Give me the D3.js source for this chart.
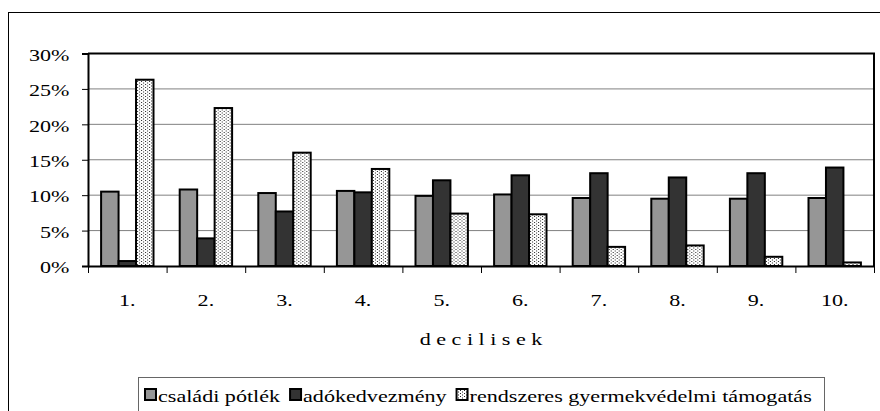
<!DOCTYPE html>
<html>
<head>
<meta charset="utf-8">
<script src="https://cdn.jsdelivr.net/npm/d3@7"></script>
<style>
  body { margin: 0; background: #fff; }
  svg text { font-family: "Liberation Serif", "Times New Roman", serif; font-size: 17px; fill: #000; }
</style>
</head>
<body>
<div id="chart"></div>
<script>
// decilisek
var deciles = ["1.", "2.", "3.", "4.", "5.", "6.", "7.", "8.", "9.", "10."];
var seriesNames = ["családi pótlék", "adókedvezmény", "rendszeres gyermekvédelmi támogatás"];
var csaladiPotlek = [0.105, 0.108, 0.103, 0.106, 0.099, 0.101, 0.096, 0.095, 0.095, 0.096];
var adokedvezmeny = [0.007, 0.039, 0.077, 0.104, 0.121, 0.128, 0.131, 0.125, 0.131, 0.139];
var rendszeres = [0.263, 0.223, 0.160, 0.137, 0.074, 0.073, 0.027, 0.029, 0.013, 0.005];
var yTicks = [0, 0.05, 0.10, 0.15, 0.20, 0.25, 0.30];
var axisTitle = "d e c i l i s e k";

var W = 880, H = 411;
var plotL = 88, plotR = 874, plotT = 53.5, plotB = 266;
var SX = 1.3; // the original text is stretched sideways

var svg = d3.select("#chart").append("svg")
    .attr("width", W).attr("height", H);

var defs = svg.append("defs");
var pat = defs.append("pattern")
    .attr("id", "dots").attr("patternUnits", "userSpaceOnUse")
    .attr("width", 4).attr("height", 3);
pat.append("rect").attr("width", 4).attr("height", 3).attr("fill", "#fff");
pat.append("rect").attr("x", 0).attr("y", 0).attr("width", 1).attr("height", 1).attr("fill", "#222");
pat.append("rect").attr("x", 2).attr("y", 1.5).attr("width", 1).attr("height", 1).attr("fill", "#222");

var fills = ["#969696", "#333333", "url(#dots)"];

// outer frame
svg.append("rect")
    .attr("x", 8.5).attr("y", 12.5).attr("width", 900).attr("height", 500)
    .attr("fill", "none").attr("stroke", "#000").attr("stroke-width", 1);

var x0 = d3.scaleBand().domain(deciles).range([plotL, plotR])
    .paddingInner(1 / 3).paddingOuter(1 / 6);
var x1 = d3.scaleBand().domain([0, 1, 2]).range([0, x0.bandwidth()]);
var y = d3.scaleLinear().domain([0, 0.3]).range([plotB, plotT]);
var xEdge = d3.scaleLinear().domain([0, deciles.length]).range([plotL, plotR]);

// gridlines
svg.append("g").selectAll("line")
    .data(yTicks.filter(function (d) { return d > 0 && d < 0.3; }))
    .join("line")
    .attr("x1", plotL).attr("x2", plotR)
    .attr("y1", function (d) { return y(d); }).attr("y2", function (d) { return y(d); })
    .attr("stroke", "#808080").attr("stroke-width", 1);

// bars
var rows = deciles.map(function (d, i) {
    return { cat: d, vals: [csaladiPotlek[i], adokedvezmeny[i], rendszeres[i]] };
});
svg.append("g").selectAll("g")
    .data(rows)
    .join("g")
    .attr("transform", function (d) { return "translate(" + x0(d.cat) + ",0)"; })
    .selectAll("rect")
    .data(function (d) { return d.vals.map(function (v, k) { return { k: k, v: v }; }); })
    .join("rect")
    .attr("x", function (d) { return x1(d.k); })
    .attr("width", x1.bandwidth())
    .attr("y", function (d) { return y(d.v); })
    .attr("height", function (d) { return plotB - y(d.v); })
    .attr("fill", function (d) { return fills[d.k]; })
    .attr("stroke", "#000").attr("stroke-width", 2);

// plot border (top and right)
svg.append("path")
    .attr("d", "M" + plotL + "," + plotT + "H" + plotR + "V" + plotB)
    .attr("fill", "none").attr("stroke", "#000").attr("stroke-width", 2);

// y axis
var yAxis = svg.append("g").attr("transform", "translate(" + plotL + ",0)")
    .call(d3.axisLeft(y).tickValues(yTicks).tickFormat(d3.format(".0%")).tickSize(6));
yAxis.select(".domain").attr("stroke-width", 2);
yAxis.selectAll("text")
    .attr("x", 0).attr("dy", "0.4em")
    .attr("transform", "translate(-18.5,0) scale(" + SX + ",1)")
    .style("font-size", "17px");

// x axis: ticks at category edges
var xTickAxis = svg.append("g").attr("transform", "translate(0," + plotB + ")")
    .call(d3.axisBottom(xEdge).tickValues(d3.range(deciles.length + 1)).tickFormat("").tickSize(7).tickSizeOuter(0));
xTickAxis.select(".domain").attr("stroke-width", 2);

// x axis labels
var xLab = svg.append("g").attr("transform", "translate(0," + plotB + ")")
    .call(d3.axisBottom(x0).tickSize(0));
xLab.select(".domain").remove();
xLab.selectAll("text")
    .attr("x", 0).attr("y", 40).attr("dy", 0)
    .attr("transform", "scale(" + SX + ",1)")
    .style("font-size", "17px");

svg.append("text")
    .attr("text-anchor", "middle")
    .attr("transform", "translate(" + ((plotL + plotR) / 2) + ",345) scale(" + SX + ",1)")
    .text(axisTitle);

// legend
var legend = svg.append("g");
legend.append("rect")
    .attr("x", 138.5).attr("y", 377.5).attr("width", 686).attr("height", 60)
    .attr("fill", "#fff").attr("stroke", "#666").attr("stroke-width", 1);

var lx = 145;
seriesNames.forEach(function (name, k) {
    legend.append("rect")
        .attr("x", lx).attr("y", 389).attr("width", 11).attr("height", 11)
        .attr("fill", fills[k]).attr("stroke", "#000").attr("stroke-width", 2);
    var t = legend.append("text")
        .attr("transform", "translate(" + (lx + 13) + ",402) scale(" + SX + ",1)")
        .text(name);
    lx += 13 + t.node().getComputedTextLength() * SX + 10;
});
</script>
</body>
</html>
